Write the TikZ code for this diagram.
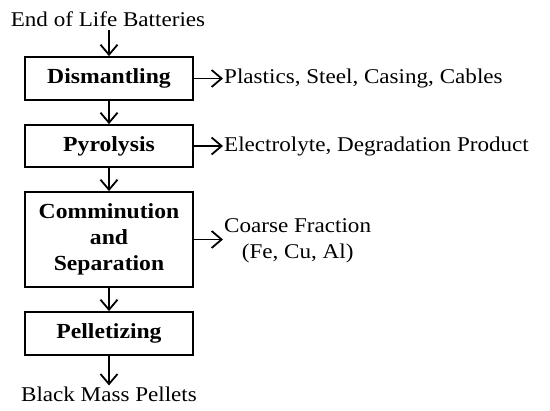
\documentclass[tikz,border=0pt]{standalone}
\usepackage{fontspec}
\setmainfont{Liberation Serif}[FakeStretch=1.1]
\usetikzlibrary{arrows.meta}
\begin{document}
\begin{tikzpicture}[x=1pt,y=-1pt,
  proc/.style={draw, line width=1.8pt, minimum width=168pt, inner sep=0pt,
    font=\bfseries\fontsize{21.5}{26}\selectfont, align=center},
  lbl/.style={font=\fontsize{21}{26}\selectfont, align=center, inner sep=1pt},
  arr/.style={line width=1.8pt, -{Straight Barb[length=10pt,width=17pt,line width=1.8pt]}}]
\useasboundingbox (0,0) rectangle (550,411);
\node[lbl] (top) at (108,19) {End of Life Batteries};
\node[proc, minimum height=43pt] (dis) at (109,78.5) {Dismantling};
\node[proc, minimum height=42pt] (pyr) at (109,146) {Pyrolysis};
\node[proc, minimum height=95pt] (com) at (109,239.5) {Comminution\\and\\Separation};
\node[proc, minimum height=43pt] (pel) at (109,333.5) {Pelletizing};
\node[lbl] (bot) at (109,394) {Black Mass Pellets};
\node[lbl, anchor=west] (o1) at (223,78) {Plastics, Steel, Casing, Cables};
\node[lbl, anchor=west] (o2) at (223,146) {Electrolyte, Degradation Product};
\node[lbl, anchor=west] (o3) at (223,241) {Coarse Fraction\\(Fe, Cu, Al)};
\draw[arr] ([yshift=-2pt]top.south -| dis.north) -- (dis.north);
\draw[arr] (dis) -- (pyr);
\draw[arr] (pyr) -- (com);
\draw[arr] (com) -- (pel);
\draw[arr] (pel.south) -- (bot.north -| pel.south);
\draw[arr] (dis.east) -- (o1.west |- dis.east);
\draw[arr] (pyr.east) -- (o2.west |- pyr.east);
\draw[arr] (com.east) -- (o3.west |- com.east);
\end{tikzpicture}
\end{document}
